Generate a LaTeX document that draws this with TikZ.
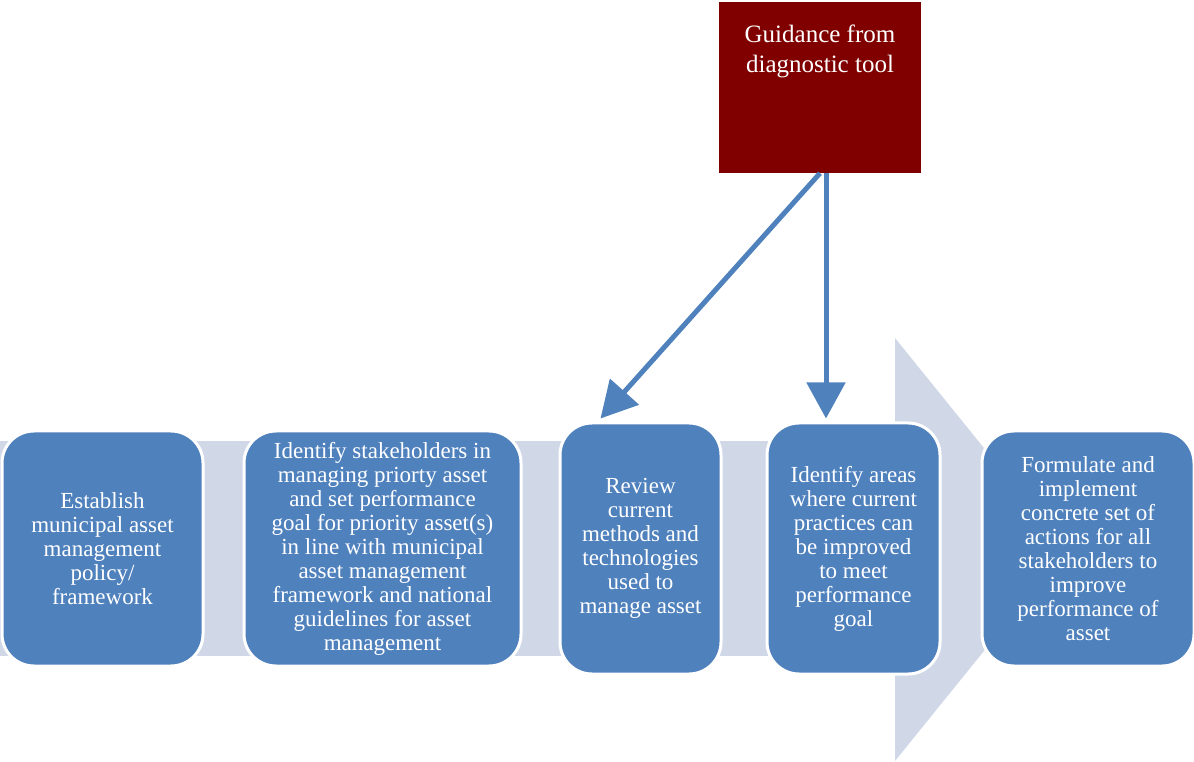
\documentclass[tikz,border=0pt]{standalone}
\usepackage{fontspec}
\setmainfont{Liberation Serif}
\usepackage{tikz}
\usetikzlibrary{arrows.meta, positioning}
\definecolor{stepblue}{HTML}{4F81BD}
\definecolor{bandgray}{HTML}{D0D8E8}
\definecolor{guidered}{HTML}{800000}

\tikzset{
  stepbox/.style={rounded corners=32pt, fill=stepblue, draw=white, line width=3pt,
    text=white, align=center, inner sep=2pt, font=\fontsize{23}{24}\selectfont},
  guidearrow/.style={draw=stepblue, line width=5pt, -{Triangle[width=38pt, length=36pt]}}
}

\begin{document}
\begin{tikzpicture}[x=1pt, y=1pt]
            \useasboundingbox (0,0) rectangle (1194,761);

            % band and big arrow behind the steps
            \fill[bandgray] (0,105) rectangle (895,320);
            \fill[bandgray] (895,0) -- (895,423) -- (1066,211.5) -- cycle;

            % steps
            \node[stepbox, minimum width=201pt, minimum height=235pt] (policy) at (102.5,212.5)
                {Establish\\municipal asset\\management\\policy/\\framework};
            \node[stepbox, minimum width=277pt, minimum height=235pt] (stake) at (382.5,212.5)
                {Identify stakeholders in\\managing priorty asset\\and set performance\\goal for priority asset(s)\\in line with municipal\\asset management\\framework and national\\guidelines for asset\\management};
            \node[stepbox, minimum width=161pt, minimum height=251pt] (review) at (640.5,212.5)
                {Review\\current\\methods and\\technologies\\used to\\manage asset};
            \node[stepbox, minimum width=173pt, minimum height=251pt] (areas) at (853.5,212.5)
                {Identify areas\\where current\\practices can\\be improved\\to meet\\performance\\goal};
            \node[stepbox, minimum width=212pt, minimum height=235pt] (actions) at (1088,212.5)
                {Formulate and\\implement\\concrete set of\\actions for all\\stakeholders to\\improve\\performance of\\asset};

            % guidance box
            \node[fill=guidered, minimum width=202pt, minimum height=171pt] (guide) at (820,673.5) {};
            \node[text=white, align=center, font=\fontsize{25}{30}\selectfont, below=20pt of guide.north] (guidetext)
                {Guidance from\\diagnostic tool};

            \draw[guidearrow] (guide.south) -- ([xshift=42pt, yshift=3pt]review.north west);
            \draw[guidearrow] ([xshift=6pt]guide.south) -- ([xshift=6pt, yshift=3pt]guide.south |- areas.north);
        \end{tikzpicture}
\end{document}
